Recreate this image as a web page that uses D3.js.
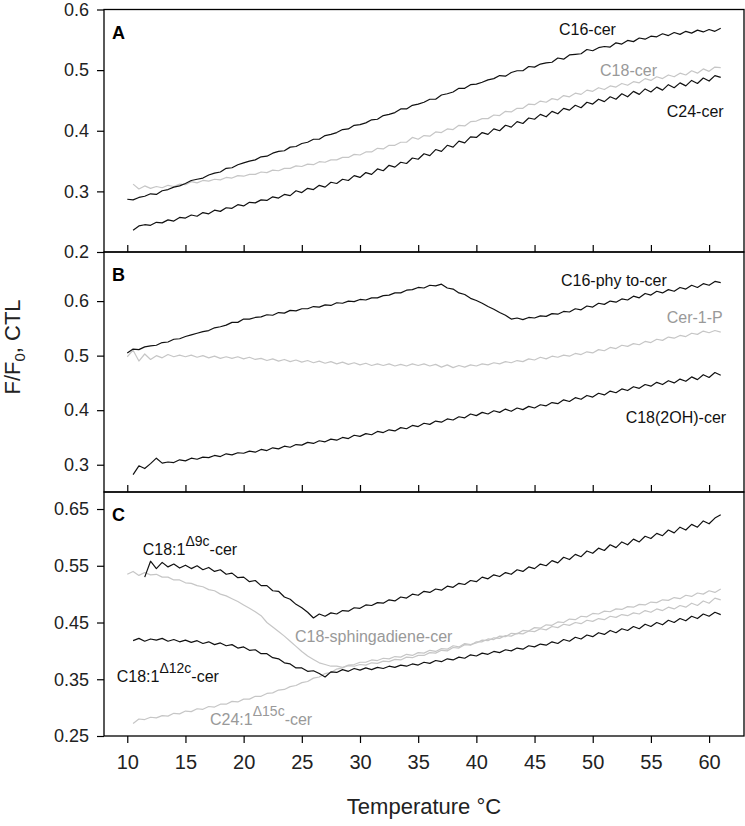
<!DOCTYPE html>
<html><head><meta charset="utf-8">
<script src="https://cdn.jsdelivr.net/npm/d3@7"></script>
<style>
body{margin:0;background:#fff;}
svg{display:block;font-family:"Liberation Sans",Arial,sans-serif;}
</style></head>
<body>
<svg id="chart" width="745" height="826"></svg>
<script>
// ---------- DATA ----------
const STEP = 0.5; // temperature sampling step (°C)
const xTicks = [10,15,20,25,30,35,40,45,50,55,60];
const yTicksA = [0.2,0.3,0.4,0.5,0.6];
const yTicksB = [0.3,0.4,0.5,0.6];
const yTicksC = [0.25,0.35,0.45,0.55,0.65];

// Panel A
const c16cerStart = 10;
const c16cer = [.287,.286,.290,.292,.296,.295,.301,.303,.307,.309,.313,
.318,.320,.322,.327,.330,.332,.338,.339,.344,.347,
.350,.352,.357,.358,.363,.366,.367,.373,.374,.379,
.381,.386,.386,.392,.394,.397,.402,.403,.409,.410,
.413,.418,.419,.425,.427,.430,.436,.436,.442,.444,
.447,.452,.452,.459,.461,.464,.470,.470,.476,.477,
.480,.484,.486,.491,.490,.496,.499,.499,.506,.505,
.510,.512,.513,.520,.518,.525,.526,.527,.534,.532,
.537,.539,.538,.545,.543,.549,.547,.553,.551,.556,
.555,.560,.557,.562,.559,.564,.561,.566,.563,.567,.564,.569];
const c18cerStart = 10.5;
const c18cer = [.312,.304,.309,.305,.308,.306,.310,.308,.312,.311,
.316,.314,.318,.317,.320,.319,.323,.322,.326,.325,
.328,.328,.332,.331,.335,.334,.338,.338,.342,.341,
.345,.344,.349,.348,.352,.352,.356,.356,.361,.360,
.365,.365,.371,.370,.376,.376,.381,.381,.389,.386,
.392,.391,.398,.397,.403,.402,.409,.408,.415,.416,
.420,.420,.426,.425,.432,.431,.437,.437,.444,.443,
.449,.447,.453,.451,.458,.456,.462,.460,.467,.465,
.471,.468,.474,.472,.478,.475,.481,.479,.486,.483,
.489,.486,.492,.489,.495,.492,.499,.495,.502,.498,.505,.504];
const c24cerStart = 10.5;
const c24cer = [.236,.243,.245,.244,.249,.248,.253,.251,.257,.256,
.261,.259,.265,.263,.269,.267,.273,.272,.278,.276,
.282,.281,.286,.285,.291,.289,.295,.293,.301,.298,
.305,.303,.310,.307,.315,.313,.320,.318,.326,.323,
.331,.328,.337,.334,.343,.340,.348,.346,.355,.353,
.362,.359,.369,.366,.376,.373,.383,.380,.390,.389,
.397,.394,.403,.400,.409,.406,.415,.412,.421,.419,
.427,.423,.432,.428,.437,.434,.442,.438,.447,.444,
.452,.448,.456,.452,.461,.456,.465,.460,.469,.464,
.472,.467,.476,.471,.479,.474,.483,.478,.487,.482,.491,.488];

// Panel B
const c16phytoStart = 10;
const c16phyto = [.505,.512,.511,.516,.518,.519,.524,.525,.530,.531,.535,
.538,.541,.544,.546,.551,.553,.556,.561,.561,.567,
.567,.570,.571,.575,.574,.579,.578,.583,.582,.586,
.586,.590,.589,.593,.592,.597,.596,.600,.599,.603,
.602,.606,.606,.610,.611,.615,.615,.620,.621,.625,
.624,.629,.628,.631,.624,.622,.615,.612,.605,.601,
.596,.590,.585,.579,.574,.567,.569,.566,.570,.569,
.573,.572,.577,.576,.581,.580,.586,.584,.591,.589,
.596,.594,.600,.598,.604,.602,.609,.606,.614,.611,
.618,.615,.621,.618,.625,.622,.629,.625,.632,.629,.636,.634];
const cer1pStart = 10;
const cer1p = [.498,.510,.490,.503,.493,.500,.496,.502,.498,.501,.498,
.501,.497,.500,.496,.499,.495,.498,.495,.498,.494,
.497,.493,.495,.491,.494,.490,.493,.489,.492,.488,
.491,.487,.490,.486,.489,.485,.488,.484,.487,.483,
.486,.482,.485,.482,.485,.481,.484,.481,.485,.482,
.485,.481,.484,.479,.483,.478,.482,.479,.483,.481,
.485,.483,.487,.485,.489,.487,.491,.489,.494,.492,
.497,.494,.499,.497,.501,.499,.504,.502,.507,.505,
.511,.509,.515,.513,.519,.517,.522,.520,.526,.524,
.530,.528,.534,.532,.537,.535,.541,.539,.545,.542,.546,.543];
const c18ohStart = 10.5;
const c18oh = [.282,.298,.293,.302,.312,.303,.305,.304,.309,.307,
.312,.310,.314,.313,.317,.315,.320,.318,.322,.321,
.325,.323,.328,.326,.331,.329,.334,.332,.337,.336,
.341,.339,.344,.342,.347,.345,.350,.348,.354,.352,
.357,.355,.361,.359,.364,.362,.368,.366,.372,.370,
.376,.374,.380,.378,.384,.382,.388,.386,.393,.390,
.396,.393,.399,.396,.402,.398,.404,.401,.407,.404,
.410,.408,.414,.412,.419,.416,.423,.420,.427,.424,
.431,.428,.435,.432,.439,.436,.443,.440,.447,.444,
.451,.447,.454,.450,.457,.453,.461,.456,.465,.460,.469,.464];

// Panel C
const c181d9Start = 11.5;
const c181d9 = [.530,.558,.545,.556,.548,.553,.546,.551,.545,.550,
.543,.547,.540,.543,.535,.537,.529,.530,.522,.524,
.515,.515,.506,.505,.495,.491,.482,.476,.468,
.458,.465,.461,.467,.465,.471,.470,.476,.475,.481,
.480,.485,.484,.490,.488,.495,.493,.500,.498,.505,
.503,.509,.507,.514,.512,.519,.517,.524,.522,.530,
.527,.534,.531,.538,.535,.543,.540,.548,.545,.553,
.550,.559,.555,.565,.561,.570,.566,.576,.572,.581,
.577,.587,.582,.592,.587,.597,.592,.602,.598,.607,
.603,.613,.608,.618,.613,.623,.618,.629,.624,.634,.640];
const c18sphStart = 10;
const c18sph = [.535,.540,.533,.538,.534,.535,.530,.530,.525,.525,.520,
.519,.515,.513,.508,.506,.500,.497,.492,.487,.481,
.475,.469,.462,.450,.442,.434,.426,.417,.408,.399,
.391,.385,.379,.376,.373,.373,.371,.374,.373,.376,
.375,.379,.378,.382,.381,.385,.384,.389,.388,.392,
.392,.397,.396,.401,.400,.406,.405,.411,.410,.416,
.416,.421,.420,.426,.425,.431,.430,.436,.435,.441,
.440,.446,.445,.451,.450,.456,.455,.461,.460,.466,
.465,.470,.469,.474,.473,.478,.477,.482,.481,.486,
.485,.490,.489,.494,.492,.498,.496,.502,.500,.506,.503,.509];
const c181d12Start = 10.5;
const c181d12 = [.418,.422,.417,.421,.419,.422,.417,.420,.416,.419,
.415,.418,.413,.416,.411,.414,.409,.411,.405,.407,
.401,.402,.395,.395,.388,.386,.379,.377,.370,.370,
.364,.365,.360,.354,.363,.362,.367,.364,.369,.366,
.370,.367,.371,.369,.373,.371,.375,.373,.377,.375,
.380,.378,.383,.381,.386,.384,.389,.387,.393,.391,
.396,.394,.399,.397,.402,.400,.405,.403,.409,.407,
.412,.410,.416,.413,.420,.417,.424,.421,.428,.425,
.432,.429,.436,.432,.439,.436,.443,.439,.447,.443,
.450,.446,.454,.450,.457,.453,.461,.457,.465,.461,.468,.464];
const c241d15Start = 10.5;
const c241d15 = [.272,.280,.279,.283,.282,.286,.285,.290,.289,.294,
.293,.298,.297,.302,.301,.306,.306,.311,.310,.315,
.315,.320,.320,.325,.326,.331,.332,.337,.339,.344,
.346,.352,.354,.360,.362,.368,.370,.375,.376,.380,
.380,.384,.383,.387,.386,.390,.389,.394,.392,.397,
.396,.401,.399,.404,.403,.409,.407,.413,.411,.414,
.419,.418,.423,.422,.427,.426,.431,.430,.435,.434,
.439,.437,.443,.441,.447,.445,.450,.448,.454,.452,
.457,.455,.461,.459,.464,.462,.467,.465,.471,.468,
.474,.471,.477,.474,.480,.477,.484,.480,.488,.484,.493,.490];

// ---------- LAYOUT ----------
const svg = d3.select("#chart");
const L = 104, R = 744;
const x = d3.scaleLinear().domain([8, 63]).range([L, R]);
const BLACK = "#111", GRAY = "#c6c6c6", GRAYTXT = "#999";
const font = '"Liberation Sans",Arial,sans-serif';

const panels = [
  {letter:"A", top:9.5, bottom:252, domain:[0.2,0.6], ticks:yTicksA, fmt:d3.format(".1f"),
   series:[
     {start:c18cerStart, values:c18cer, color:GRAY},
     {start:c16cerStart, values:c16cer, color:BLACK},
     {start:c24cerStart, values:c24cer, color:BLACK}],
   labels:[
     {parts:[["C16-cer"]], t:47.1, v:0.558, color:BLACK},
     {parts:[["C18-cer"]], t:50.63, v:0.490, color:GRAYTXT},
     {parts:[["C24-cer"]], t:56.36, v:0.423, color:BLACK}]},
  {letter:"B", top:252, bottom:492, domain:[0.25,0.69], ticks:yTicksB, fmt:d3.format(".1f"),
   series:[
     {start:cer1pStart, values:cer1p, color:GRAY},
     {start:c16phytoStart, values:c16phyto, color:BLACK},
     {start:c18ohStart, values:c18oh, color:BLACK}],
   labels:[
     {parts:[["C16-phy to-cer"]], t:47.27, v:0.628, color:BLACK},
     {parts:[["Cer-1-P"]], t:56.36, v:0.559, color:GRAYTXT},
     {parts:[["C18(2OH)-cer"]], t:52.83, v:0.376, color:BLACK}]},
  {letter:"C", top:492, bottom:736, domain:[0.25,0.68], ticks:yTicksC, fmt:d3.format(".2f"),
   series:[
     {start:c18sphStart, values:c18sph, color:GRAY},
     {start:c241d15Start, values:c241d15, color:GRAY},
     {start:c181d9Start, values:c181d9, color:BLACK},
     {start:c181d12Start, values:c181d12, color:BLACK}],
   labels:[
     {parts:[["C18:1"],["Δ9c","sup"],["-cer"]], t:11.33, v:0.569, color:BLACK},
     {parts:[["C18-sphingadiene-cer"]], t:24.41, v:0.416, color:GRAYTXT},
     {parts:[["C18:1"],["Δ12c","sup"],["-cer"]], t:9.09, v:0.346, color:BLACK},
     {parts:[["C24:1"],["Δ15c","sup"],["-cer"]], t:17.11, v:0.269, color:GRAYTXT}]}
];

panels.forEach((p, pi) => {
  const y = d3.scaleLinear().domain(p.domain).range([p.bottom, p.top]);
  const g = svg.append("g");

  const line = d3.line().x(d => x(d[0])).y(d => y(d[1]));
  p.series.forEach(s => {
    const pts = s.values.map((v, i) => [s.start + i * STEP, v]);
    g.append("path").attr("d", line(pts))
      .attr("fill", "none").attr("stroke", s.color)
      .attr("stroke-width", 1.2).attr("stroke-linejoin", "round");
  });

  g.append("rect").attr("x", L).attr("y", p.top)
    .attr("width", R - L).attr("height", p.bottom - p.top)
    .attr("fill", "none").attr("stroke", "#000").attr("stroke-width", 1.3);

  const ya = d3.axisLeft(y).tickValues(p.ticks).tickFormat(p.fmt).tickSize(7).tickSizeOuter(0).tickPadding(8);
  const yg = g.append("g").attr("transform", `translate(${L},0)`).call(ya);
  yg.select(".domain").remove();
  yg.selectAll("line").attr("stroke", "#000").attr("stroke-width", 1.2);
  yg.selectAll("text").attr("font-size", 18).attr("font-family", font).attr("fill", "#222");

  if (pi < 2) {
    const xa = d3.axisTop(x).tickValues(xTicks).tickFormat("").tickSize(7).tickSizeOuter(0);
    const xg = g.append("g").attr("transform", `translate(0,${p.bottom})`).call(xa);
    xg.select(".domain").remove();
    xg.selectAll("line").attr("stroke", "#000").attr("stroke-width", 1.2);
  } else {
    const xa = d3.axisBottom(x).tickValues(xTicks).tickFormat(d3.format("d")).tickSize(7).tickSizeOuter(0).tickPadding(12);
    const xg = g.append("g").attr("transform", `translate(0,${p.bottom})`).call(xa);
    xg.select(".domain").remove();
    xg.selectAll("line").attr("stroke", "#000").attr("stroke-width", 1.2);
    xg.selectAll("text").attr("font-size", 20).attr("font-family", font).attr("fill", "#222");
  }

  g.append("text").attr("x", 112).attr("y", p.top + 29)
    .attr("font-size", 18).attr("font-weight", "bold").attr("font-family", font)
    .text(p.letter);

  p.labels.forEach(lb => {
    const t = g.append("text").attr("x", x(lb.t)).attr("y", y(lb.v))
      .attr("font-size", 16).attr("font-family", font).attr("fill", lb.color);
    let raised = false;
    lb.parts.forEach(pt => {
      const ts = t.append("tspan").text(pt[0]);
      if (pt[1] === "sup") { ts.attr("font-size", 14).attr("dy", -9); raised = true; }
      else if (raised) { ts.attr("dy", 9); raised = false; }
    });
  });
});

const yt = svg.append("text").attr("transform", "translate(20,347) rotate(-90)")
  .attr("text-anchor", "middle").attr("font-size", 22).attr("font-family", font).attr("fill", "#222");
yt.append("tspan").text("F/F");
yt.append("tspan").text("0").attr("font-size", 15).attr("dy", 5);
yt.append("tspan").text(", CTL").attr("dy", -5);

svg.append("text").attr("x", (L + R) / 2).attr("y", 814).attr("text-anchor", "middle")
  .attr("font-size", 22).attr("font-family", font).attr("fill", "#222")
  .text("Temperature °C");
</script>
</body></html>
